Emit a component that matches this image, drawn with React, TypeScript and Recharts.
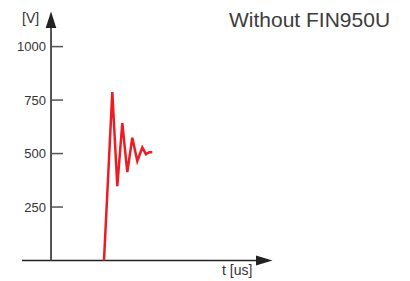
import { LineChart, Line, XAxis, YAxis, ReferenceLine, ReferenceDot } from "recharts";

// time in arbitrary units (axis has no tick labels), voltage in V
const times = [10.6, 12.26, 13.26, 14.26, 15.26, 16.26, 17.26, 18.26, 19.0, 19.66, 20.26];
const volts = [0, 787, 348, 642, 413, 574, 465, 528, 497, 506, 506];
const yTicks = [250, 500, 750, 1000];

const data = times.map((t, i) => ({ t, v: volts[i] }));

const font = "'Liberation Sans', Arial, sans-serif";

function YTick(props: any) {
  const { x, y, payload } = props;
  return (
    <g>
      <line x1={x + 5} y1={y} x2={x + 17} y2={y} stroke="#555" strokeWidth={1.5} />
      <text x={x} y={y} dy={4.5} textAnchor="end" fontSize={13} fill="#333" fontFamily={font}>
        {payload.value}
      </text>
    </g>
  );
}

const upArrow = (p: any) => (
  <polygon points={`${p.cx - 5.3},${p.cy} ${p.cx + 5.3},${p.cy} ${p.cx},${p.cy - 16.5}`} fill="#222" />
);

const rightArrow = (p: any) => (
  <polygon points={`${p.cx},${p.cy - 5} ${p.cx},${p.cy + 5} ${p.cx + 16.5},${p.cy}`} fill="#222" />
);

export default function App() {
  return (
    <div style={{ position: "absolute", left: 0, top: 0, width: 410, height: 281, background: "#fff" }}>
      <LineChart width={410} height={281} data={data} margin={{ top: 28, right: 139, bottom: 20.5, left: 0 }}>
        <XAxis dataKey="t" type="number" domain={[0, 44]} hide />
        <YAxis
          type="number"
          domain={[0, 1087]}
          ticks={yTicks}
          width={51}
          tickLine={false}
          tickSize={0}
          tickMargin={5}
          axisLine={{ stroke: "#555", strokeWidth: 2 }}
          tick={<YTick />}
        />
        <ReferenceLine
          segment={[{ x: -5.8, y: 0 }, { x: 41, y: 0 }]}
          stroke="#222"
          strokeWidth={1.5}
          ifOverflow="visible"
        />
        <ReferenceDot x={0} y={1087} ifOverflow="visible" shape={upArrow} />
        <ReferenceDot x={41} y={0} ifOverflow="visible" shape={rightArrow} />
        <Line
          dataKey="v"
          stroke="#ed1c24"
          strokeWidth={2.5}
          dot={false}
          isAnimationActive={false}
          strokeLinejoin="miter"
        />
      </LineChart>
      <div style={{ position: "absolute", left: 22, top: 10, fontSize: 14, color: "#333", fontFamily: font }}>[V]</div>
      <div style={{ position: "absolute", left: 222, top: 262, fontSize: 14, color: "#333", fontFamily: font }}>t [us]</div>
      <div style={{ position: "absolute", left: 229, top: 8, fontSize: 21, color: "#3c3c3c", fontFamily: font }}>
        Without FIN950U
      </div>
    </div>
  );
}
